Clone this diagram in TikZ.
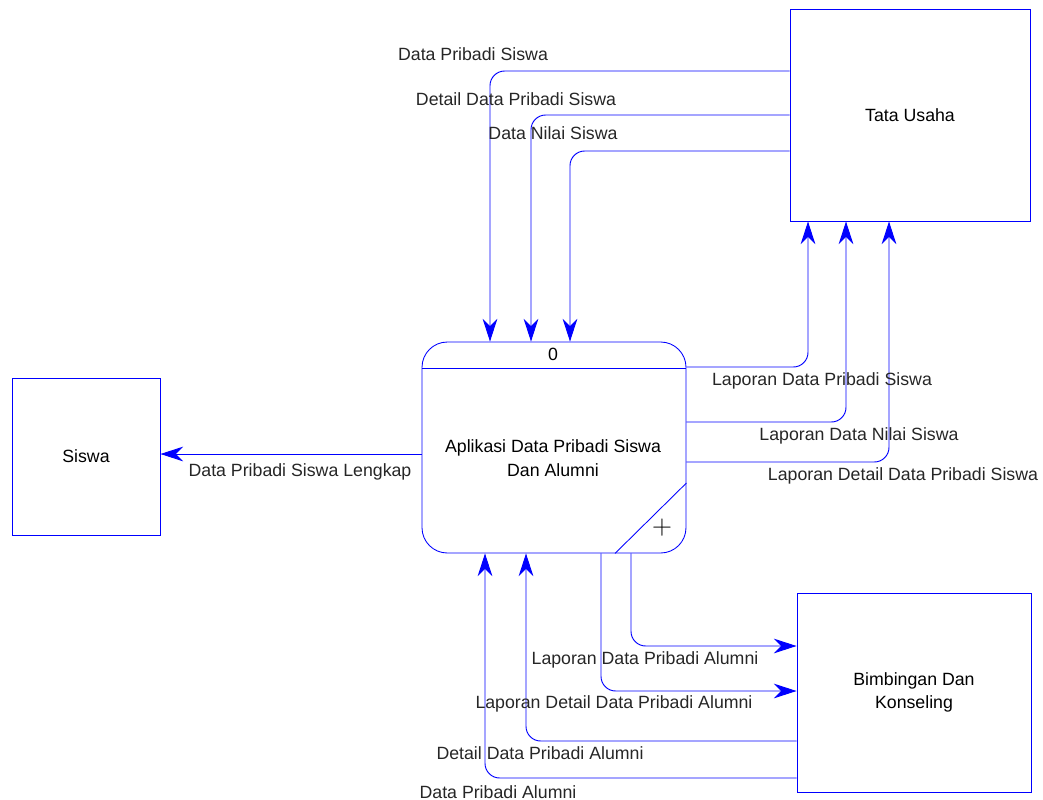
\documentclass[tikz,border=0pt]{standalone}
\usepackage{fontspec}
\setmainfont{Liberation Sans}
\usepackage{tikz}
\usetikzlibrary{arrows.meta}

\tikzset{
  ent/.style={draw=blue, line width=0.65pt, align=center, inner sep=0pt},
  proc/.style={draw=blue, line width=0.65pt, rounded corners=19pt, align=center, inner sep=0pt},
  flow/.style={draw=blue, line width=0.7pt, rounded corners=11pt,
    -{Stealth[length=17pt, width=11pt, inset=5.5pt]}},
  lbl/.style={inner sep=0pt, text=black!85},
}

\begin{document}
\begin{tikzpicture}[x=0.75pt, y=-0.75pt, font=\fontsize{13.3}{17.5}\selectfont]
\useasboundingbox (0,0) rectangle (1043,800);
\node[ent, minimum width=180pt, minimum height=159pt] (tu) at (910,115) {Tata Usaha};
\node[ent, minimum width=111pt, minimum height=117.75pt] (siswa) at (86,456.5) {Siswa};
\node[ent, minimum width=175.5pt, minimum height=149.25pt] (bk) at (914,692.5) {Bimbingan Dan\\Konseling};
\node[proc, minimum width=198pt, minimum height=158.25pt] (proc) at (554,447.5) {};
\node (procno) at (553,354) {0};
\node[align=center] (procname) at (553,458) {Aplikasi Data Pribadi Siswa\\Dan Alumni};
\node[font=\fontsize{22}{22}\selectfont] (plus) at (662,528) {$+$};
\draw[blue, line width=0.65pt] (proc.west |- 0,368) -- (proc.east |- 0,368);
\draw[blue, line width=0.65pt] (proc.east |- 0,483) -- (615,0 |- proc.south);

\draw[flow] (tu.west |- 0,71) -| (490,0 |- proc.north);
\draw[flow] (tu.west |- 0,115) -| (531,0 |- proc.north);
\draw[flow] (tu.west |- 0,151) -| (570,0 |- proc.north);
\draw[flow] (proc.east |- 0,367) -| (808,0 |- tu.south);
\draw[flow] (proc.east |- 0,422) -| (846,0 |- tu.south);
\draw[flow] (proc.east |- 0,462) -| (889,0 |- tu.south);
\draw[flow] (proc.west |- 0,454) -- (siswa.east |- 0,454);
\draw[flow] (631,0 |- proc.south) |- (bk.west |- 0,646);
\draw[flow] (601,0 |- proc.south) |- (bk.west |- 0,691);
\draw[flow] (bk.west |- 0,741) -| (526,0 |- proc.south);
\draw[flow] (bk.west |- 0,778) -| (485,0 |- proc.south);

\node[lbl] (l1) at (473,54) {Data Pribadi Siswa};
\node[lbl] (l2) at (516,99) {Detail Data Pribadi Siswa};
\node[lbl] (l3) at (553,133) {Data Nilai Siswa};
\node[lbl] (l4) at (822,381) {Laporan Data Pribadi Siswa};
\node[lbl] (l5) at (859,436) {Laporan Data Nilai Siswa};
\node[lbl] (l6) at (903,476) {Laporan Detail Data Pribadi Siswa};
\node[lbl] (l7) at (300,472) {Data Pribadi Siswa Lengkap};
\node[lbl] (l8) at (645,660) {Laporan Data Pribadi Alumni};
\node[lbl] (l9) at (614,704) {Laporan Detail Data Pribadi Alumni};
\node[lbl] (l10) at (540,753) {Detail Data Pribadi Alumni};
\node[lbl] (l11) at (498,792) {Data Pribadi Alumni};
\end{tikzpicture}
\end{document}
